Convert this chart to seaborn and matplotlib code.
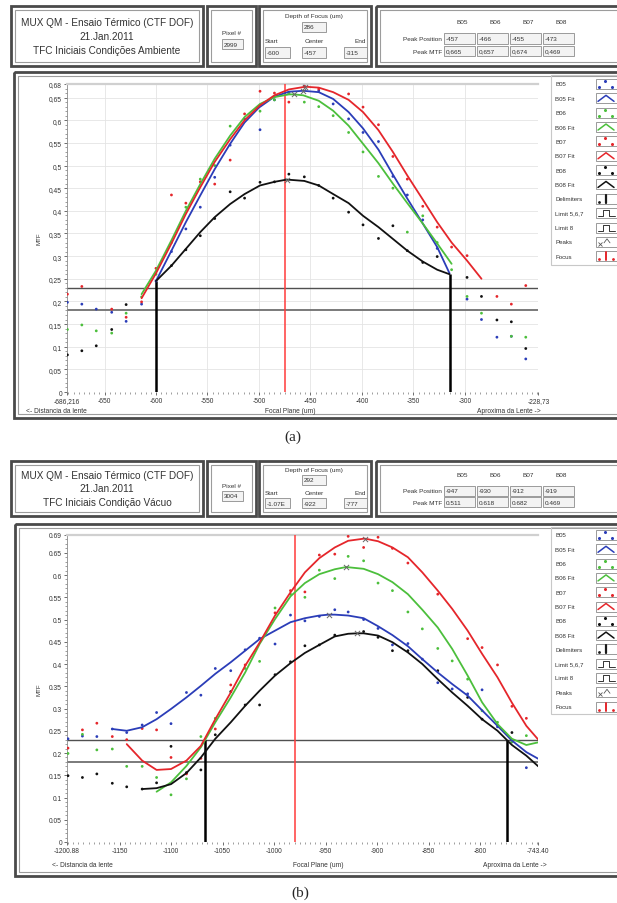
import numpy as np
import pandas as pd
import matplotlib
matplotlib.use('Agg')
import matplotlib.pyplot as plt
import seaborn as sns
from matplotlib.patches import Rectangle
from matplotlib.ticker import MultipleLocator

# ---------------- DATA: panel (a) ambient ----------------
a_b05_x = [-686,-672,-658,-643,-629,-614,-600,-585,-571,-557,-543,-528,-514,-499,-485,-471,-456,-442,-428,-413,-399,-384,-370,-356,-341,-327,-298,-284,-269,-255,-241,-227]
a_b05_y = [.198,.194,.183,.176,.156,.194,.245,.310,.360,.408,.474,.545,.603,.579,.645,.660,.675,.665,.636,.603,.573,.553,.476,.435,.380,.317,.205,.160,.121,.123,.073,.040]
a_b06_x = [-686,-672,-658,-643,-629,-614,-600,-585,-571,-557,-543,-528,-499,-485,-471,-456,-442,-428,-413,-399,-384,-370,-356,-341,-327,-313,-298,-284,-255,-241]
a_b06_y = [.138,.148,.135,.130,.174,.210,.260,.330,.408,.470,.500,.587,.620,.645,.660,.640,.630,.610,.573,.530,.476,.450,.353,.389,.330,.270,.211,.174,.123,.121]
a_b07_x = [-686,-672,-643,-629,-614,-600,-585,-571,-557,-543,-528,-514,-499,-485,-471,-456,-442,-413,-399,-384,-370,-356,-341,-327,-313,-298,-269,-255,-241,-227]
a_b07_y = [.216,.233,.183,.165,.199,.273,.435,.417,.464,.459,.512,.614,.664,.660,.640,.675,.669,.658,.629,.590,.520,.470,.410,.364,.320,.301,.211,.194,.235,.157]
a_b08_x = [-686,-672,-658,-643,-629,-585,-571,-557,-543,-528,-514,-499,-485,-471,-456,-442,-428,-413,-399,-384,-370,-356,-341,-327,-298,-284,-269,-255,-241,-227]
a_b08_y = [.082,.091,.102,.138,.193,.279,.314,.345,.383,.442,.428,.463,.464,.481,.475,.456,.428,.397,.369,.339,.367,.312,.286,.299,.253,.211,.159,.155,.096,.099]

a_fit_b05_x = [-600,-585,-571,-557,-543,-528,-514,-500,-485,-471,-457,-442,-428,-413,-399,-384,-370,-356,-341,-327,-315]
a_fit_b05_y = [.245,.312,.375,.434,.492,.548,.595,.628,.652,.663,.665,.662,.647,.618,.582,.535,.480,.427,.372,.320,.262]
a_fit_b06_x = [-614,-600,-585,-571,-557,-543,-528,-514,-499,-485,-471,-466,-457,-442,-428,-413,-399,-384,-370,-356,-341,-327,-313]
a_fit_b06_y = [.216,.268,.335,.400,.459,.515,.566,.607,.636,.651,.657,.657,.655,.643,.621,.588,.548,.505,.460,.417,.372,.328,.283]
a_fit_b07_x = [-614,-600,-585,-571,-557,-543,-528,-514,-499,-485,-471,-455,-442,-428,-413,-399,-384,-370,-356,-341,-327,-313,-298,-284]
a_fit_b07_y = [.207,.262,.328,.393,.452,.508,.558,.600,.633,.655,.668,.674,.672,.662,.645,.618,.578,.530,.478,.425,.375,.330,.290,.250]
a_fit_b08_x = [-600,-585,-571,-557,-543,-528,-514,-499,-485,-473,-456,-442,-428,-413,-399,-384,-370,-356,-341,-327,-315]
a_fit_b08_y = [.245,.279,.316,.353,.386,.415,.437,.456,.464,.469,.466,.456,.437,.417,.389,.364,.338,.312,.288,.270,.260]

a_peak_pos = [-457, -466, -455, -473]
a_peak_mtf = [0.665, 0.657, 0.674, 0.469]
a_delim_x = [-600, -315]
a_delim_top = [0.245, 0.26]
a_focus = -475
a_limits = [0.23, 0.18]
a_xticks = [-686.216, -650, -600, -550, -500, -450, -400, -350, -300, -228.73]
a_xticklabels = ['-686,216', '-650', '-600', '-550', '-500', '-450', '-400', '-350', '-300', '-228,73']
a_yticks = [0, .05, .1, .15, .2, .25, .3, .35, .4, .45, .5, .55, .6, .65, .68]
a_yticklabels = ['0', '0,05', '0,1', '0,15', '0,2', '0,25', '0,3', '0,35', '0,4', '0,45', '0,5', '0,55', '0,6', '0,65', '0,68']

# ---------------- DATA: panel (b) vacuum ----------------
b_b05_x = [-1200,-1186,-1172,-1157,-1143,-1128,-1114,-1100,-1085,-1071,-1057,-1042,-1028,-1014,-999,-984,-970,-956,-941,-928,-913,-899,-885,-870,-856,-841,-827,-812,-798,-783,-769,-755]
b_b05_y = [.232,.238,.237,.254,.246,.263,.291,.266,.336,.330,.390,.385,.432,.458,.445,.510,.497,.507,.522,.517,.500,.480,.443,.446,.411,.358,.344,.333,.342,.259,.225,.167]
b_b06_x = [-1200,-1186,-1172,-1157,-1143,-1128,-1114,-1100,-1085,-1071,-1057,-1028,-1014,-999,-984,-970,-956,-941,-928,-913,-899,-885,-870,-856,-841,-827,-812,-798,-783,-769,-755,-741]
b_b06_y = [.199,.242,.207,.209,.170,.170,.145,.106,.142,.237,.278,.390,.406,.526,.557,.550,.611,.592,.642,.632,.582,.565,.517,.479,.435,.407,.366,.295,.269,.225,.239,.203]
b_b07_x = [-1200,-1186,-1172,-1157,-1143,-1128,-1114,-1100,-1085,-1071,-1057,-1042,-1028,-999,-984,-970,-956,-941,-928,-913,-899,-885,-870,-841,-812,-798,-783,-769,-755,-741]
b_b07_y = [.211,.252,.267,.237,.230,.255,.252,.190,.153,.188,.254,.353,.398,.515,.565,.562,.645,.647,.687,.662,.685,.660,.627,.557,.457,.437,.398,.305,.278,.209]
b_b08_x = [-1200,-1186,-1172,-1157,-1143,-1128,-1114,-1100,-1085,-1071,-1057,-1042,-1028,-1014,-999,-984,-970,-956,-941,-913,-899,-885,-870,-841,-812,-798,-769,-741]
b_b08_y = [.149,.145,.153,.132,.124,.119,.133,.215,.156,.162,.241,.338,.308,.308,.376,.405,.441,.443,.465,.473,.460,.430,.430,.385,.325,.276,.246,.165]

b_fit_b05_x = [-1157,-1143,-1128,-1114,-1100,-1085,-1071,-1057,-1042,-1028,-1014,-999,-984,-970,-956,-947,-941,-928,-913,-899,-885,-870,-856,-841,-827,-812,-798,-783,-769,-755,-743.4]
b_fit_b05_y = [.254,.250,.258,.276,.299,.325,.351,.378,.404,.430,.456,.475,.494,.503,.509,.511,.511,.509,.503,.485,.465,.440,.411,.381,.355,.329,.296,.261,.228,.202,.187]
b_fit_b06_x = [-1114,-1100,-1085,-1071,-1057,-1042,-1028,-1014,-999,-984,-970,-956,-941,-930,-913,-899,-885,-870,-856,-841,-827,-812,-798,-783,-769,-755,-743.4]
b_fit_b06_y = [.113,.134,.171,.213,.269,.325,.381,.445,.501,.552,.582,.602,.613,.618,.614,.602,.584,.557,.522,.482,.434,.374,.314,.265,.232,.218,.224]
b_fit_b07_x = [-1143,-1128,-1114,-1100,-1085,-1071,-1057,-1042,-1028,-1014,-999,-984,-970,-956,-941,-928,-912,-899,-885,-870,-856,-841,-827,-812,-798,-783,-769,-755,-743.4]
b_fit_b07_y = [.220,.183,.162,.164,.183,.216,.276,.336,.396,.448,.509,.561,.606,.638,.662,.677,.682,.676,.662,.640,.606,.565,.524,.475,.423,.370,.313,.261,.230]
b_fit_b08_x = [-1128,-1114,-1100,-1085,-1071,-1057,-1042,-1028,-1014,-999,-984,-970,-956,-941,-928,-919,-913,-899,-885,-870,-856,-841,-827,-812,-798,-783,-769,-755,-743.4]
b_fit_b08_y = [.119,.121,.130,.155,.190,.232,.269,.306,.340,.374,.402,.425,.443,.462,.468,.469,.469,.464,.449,.426,.400,.366,.336,.306,.276,.250,.218,.194,.170]

b_peak_pos = [-947, -930, -912, -919]
b_peak_mtf = [0.511, 0.618, 0.682, 0.469]
b_delim_x = [-1067, -774]
b_delim_top = [0.23, 0.23]
b_focus = -980
b_limits = [0.23, 0.18]
b_xticks = [-1200.88, -1150, -1100, -1050, -1000, -950, -900, -850, -800, -743.40]
b_xticklabels = ['-1200.88', '-1150', '-1100', '-1050', '-1000', '-950', '-900', '-850', '-800', '-743.40']
b_yticks = [0, .05, .1, .15, .2, .25, .3, .35, .4, .45, .5, .55, .6, .65, .69]
b_yticklabels = ['0', '0.05', '0.1', '0.15', '0.2', '0.25', '0.3', '0.35', '0.4', '0.45', '0.5', '0.55', '0.6', '0.65', '0.69']

series = ['B05', 'B06', 'B07', 'B08']
legend_names = ['B05', 'B05 Fit', 'B06', 'B06 Fit', 'B07', 'B07 Fit', 'B08', 'B08 Fit',
                'Delimiters', 'Limit 5,6,7', 'Limit 8', 'Peaks', 'Focus']

# ---------------- STYLE ----------------
sns.set_theme(style='white')
plt.rcParams['font.family'] = ['Liberation Sans', 'DejaVu Sans']
pal = {'B05': '#2b3db8', 'B06': '#4cbf3c', 'B07': '#e5262b', 'B08': '#111111'}

W, H = 617, 904
fig = plt.figure(figsize=(W / 100, H / 100), dpi=100)
fig.patch.set_facecolor('white')
ov = fig.add_axes([0, 0, 1, 1])
ov.set_xlim(0, W); ov.set_ylim(H, 0); ov.axis('off')


def rect(x0, y0, x1, y1, **kw):
    ov.add_patch(Rectangle((x0, y0), x1 - x0, y1 - y0, **kw))


def frame(x0, y0, x1, y1, gap=4):
    rect(x0, y0, x1, y1, fill=False, ec='#4a4a4a', lw=2.0)
    rect(x0 + gap, y0 + gap, x1 - gap, y1 - gap, fill=False, ec='#9c9c9c', lw=0.8)


def inbox(x0, y0, x1, y1, txt):
    rect(x0, y0, x1, y1, fc='#f3f3f3', ec='#8c8c8c', lw=0.6)
    ov.text(x0 + 1.5, (y0 + y1) / 2, txt, fontsize=4.6, va='center', ha='left', color='#333')


def header(top, bot, l1, l2, l3, pix, dof, start, center, end, ppos, pmtf):
    h = bot - top
    frame(11, top, 203, bot)
    ym = (top + bot) / 2
    for dy, t in zip([-0.24, 0, 0.24], [l1, l2, l3]):
        ov.text(107, ym + dy * h, t, fontsize=7.2, ha='center', va='center', color='#333')
    frame(207, top, 256, bot)
    ov.text(231, ym - 0.06 * h, 'Pixel #', fontsize=4.6, ha='center', va='center', color='#333')
    inbox(222, ym + 0.05 * h, 243, ym + 0.22 * h, pix)
    frame(259, top, 371, bot)
    ov.text(314, top + 0.16 * h, 'Depth of Focus (um)', fontsize=4.6, ha='center', va='center', color='#333')
    inbox(302, top + 0.26 * h, 326, top + 0.43 * h, dof)
    ov.text(265, top + 0.58 * h, 'Start', fontsize=4.6, ha='left', va='center', color='#333')
    ov.text(314, top + 0.58 * h, 'Center', fontsize=4.6, ha='center', va='center', color='#333')
    ov.text(366, top + 0.58 * h, 'End', fontsize=4.6, ha='right', va='center', color='#333')
    inbox(265, top + 0.68 * h, 290, top + 0.86 * h, start)
    inbox(302, top + 0.68 * h, 326, top + 0.86 * h, center)
    inbox(344, top + 0.68 * h, 367, top + 0.86 * h, end)
    frame(376, top, 640, bot)
    cx = [444, 477, 510, 543]
    for i, s in enumerate(series):
        ov.text(cx[i] + 18, top + 0.25 * h, s, fontsize=4.6, ha='center', va='center', color='#333')
        inbox(cx[i], top + 0.45 * h, cx[i] + 31, top + 0.63 * h, str(ppos[i]))
        inbox(cx[i], top + 0.66 * h, cx[i] + 31, top + 0.84 * h, pmtf[i])
    ov.text(442, top + 0.54 * h, 'Peak Position', fontsize=4.6, ha='right', va='center', color='#333')
    ov.text(442, top + 0.75 * h, 'Peak MTF', fontsize=4.6, ha='right', va='center', color='#333')


def legend_panel(x0, y0, y1, ys):
    rect(x0, y0, 640, y1, fill=False, ec='#c8c8c8', lw=0.8)
    for name, y in zip(legend_names, ys):
        ov.text(x0 + 4, y, name, fontsize=4.4, va='center', ha='left', color='#333')
        bx = 596
        rect(bx, y - 5, bx + 22, y + 5, fc='white', ec='#8a8a8a', lw=0.6)
        key = name.split()[0]
        if name in series:
            ov.plot([bx + 3, bx + 9, bx + 16], [y + 3, y - 3, y + 3], 'o', ms=1.2, color=pal[key])
        elif name.endswith('Fit'):
            ov.plot([bx + 2, bx + 10, bx + 18], [y + 3, y - 3, y + 3], '-', lw=1.1, color=pal[key])
        elif name == 'Delimiters':
            ov.plot([bx + 3], [y + 3], 'o', ms=1.0, color='k')
            ov.plot([bx + 10, bx + 10], [y - 4, y + 4], '-', lw=1.6, color='k')
        elif name.startswith('Limit'):
            ov.plot([bx + 2, bx + 7, bx + 7, bx + 13, bx + 13, bx + 19],
                    [y + 3, y + 3, y - 3, y - 3, y + 3, y + 3], '-', lw=0.7, color='#333')
        elif name == 'Peaks':
            ov.plot([bx + 4], [y + 2], 'x', ms=2.5, mew=0.6, color='#555')
            ov.plot([bx + 8, bx + 11, bx + 14], [y + 1, y - 3, y + 1], '-', lw=0.6, color='#555')
        elif name == 'Focus':
            ov.plot([bx + 3, bx + 17], [y + 3, y + 3], 'o', ms=1.0, color=pal['B07'])
            ov.plot([bx + 10, bx + 10], [y - 4, y + 4], '-', lw=1.4, color=pal['B07'])


def panel(rect_px, pts, fits, peaks_pos, peaks_mtf, delim_x, delim_top, focus, limits,
          xlim, ylim, xticks, xtl, yticks, ytl, grid):
    l, t, r, b = rect_px
    ax = fig.add_axes([l / W, 1 - b / H, (r - l) / W, (b - t) / H])
    ax.set_facecolor('white')
    if grid:
        for xv in xticks[1:-1]:
            ax.axvline(xv, color='#e4e4e4', lw=0.6, zorder=0)
        for yv in yticks[1:-1]:
            ax.axhline(yv, color='#e4e4e4', lw=0.6, zorder=0)
    for yv, c, lw in zip(limits, ['#505050', '#7a7a7a'], [1.0, 1.4]):
        ax.axhline(yv, color=c, lw=lw, zorder=2)
    ax.vlines(delim_x, 0, delim_top, colors='black', lw=1.8, zorder=3)
    ax.axvline(focus, color='#ff3b3b', lw=1.1, zorder=3)
    sns.scatterplot(data=pts, x='x', y='y', hue='series', palette=pal, s=4, linewidth=0,
                    legend=False, ax=ax, zorder=4)
    sns.lineplot(data=fits, x='x', y='y', hue='series', palette=pal, estimator=None, sort=False,
                 lw=1.3, legend=False, ax=ax, zorder=5)
    ax.scatter(peaks_pos, peaks_mtf, marker='x', s=14, color='#666', linewidths=0.7, zorder=6)
    ax.set_xlim(*xlim); ax.set_ylim(*ylim)
    ax.set_xticks(xticks); ax.set_xticklabels(xtl)
    ax.set_yticks(yticks); ax.set_yticklabels(ytl)
    ax.xaxis.set_minor_locator(MultipleLocator(5))
    ax.yaxis.set_minor_locator(MultipleLocator(0.01))
    ax.tick_params(axis='both', which='major', labelsize=4.8, length=2.5, width=0.6,
                   colors='#555', labelcolor='#333', pad=1.2, direction='out', left=True, bottom=True)
    ax.tick_params(axis='both', which='minor', length=1.3, width=0.5, colors='#777',
                   direction='out', left=True, bottom=True)
    for s in ['right', 'bottom']:
        ax.spines[s].set_visible(False)
    ax.spines['left'].set_color('#8a8a8a'); ax.spines['left'].set_linewidth(0.6)
    ax.spines['top'].set_color('#d0d0d0'); ax.spines['top'].set_linewidth(1.6)
    ax.set_xlabel(''); ax.set_ylabel('')
    return ax


def make_pts(xs, ys):
    return pd.concat([pd.DataFrame({'x': x, 'y': y, 'series': s}) for s, x, y in zip(series, xs, ys)],
                     ignore_index=True)


# ---------------- (a) ----------------
header(7, 67, 'MUX QM - Ensaio Térmico (CTF DOF)', '21.Jan.2011', 'TFC Iniciais Condições Ambiente',
       '2999', '286', '-600', '-457', '-315', a_peak_pos, ['0,665', '0,657', '0,674', '0,469'])
frame(14, 73, 640, 419)
legend_panel(551, 76, 266, [85 + 14.35 * i for i in range(13)])
pts_a = make_pts([a_b05_x, a_b06_x, a_b07_x, a_b08_x], [a_b05_y, a_b06_y, a_b07_y, a_b08_y])
fits_a = make_pts([a_fit_b05_x, a_fit_b06_x, a_fit_b07_x, a_fit_b08_x],
                  [a_fit_b05_y, a_fit_b06_y, a_fit_b07_y, a_fit_b08_y])
panel((67.2, 85, 538.4, 393), pts_a, fits_a, a_peak_pos, a_peak_mtf, a_delim_x, a_delim_top, a_focus,
      a_limits, (-686.216, -228.73), (0, 0.68), a_xticks, a_xticklabels, a_yticks, a_yticklabels, True)
ov.text(39, 239, 'MTF', fontsize=4.4, rotation=90, ha='center', va='center', color='#333')
ov.text(26, 412, '<- Distancia da lente', fontsize=4.8, ha='left', va='center', color='#333')
ov.text(290, 412, 'Focal Plane (um)', fontsize=4.8, ha='center', va='center', color='#333')
ov.text(541, 412, 'Aproxima da Lente ->', fontsize=4.8, ha='right', va='center', color='#333')
ov.text(293, 437, '(a)', fontsize=11, ha='center', va='center', family='Liberation Serif')

# ---------------- (b) ----------------
header(462, 517, 'MUX QM - Ensaio Térmico (CTF DOF)', '21.Jan.2011', 'TFC Iniciais Condição Vácuo',
       '3004', '292', '-1.07E', '-922', '-777', b_peak_pos, ['0.511', '0.618', '0.682', '0.469'])
frame(15, 525, 640, 877)
legend_panel(551, 528, 715, [536 + 14.3 * i for i in range(13)])
pts_b = make_pts([b_b05_x, b_b06_x, b_b07_x, b_b08_x], [b_b05_y, b_b06_y, b_b07_y, b_b08_y])
fits_b = make_pts([b_fit_b05_x, b_fit_b06_x, b_fit_b07_x, b_fit_b08_x],
                  [b_fit_b05_y, b_fit_b06_y, b_fit_b07_y, b_fit_b08_y])
panel((67.1, 536, 538.3, 843), pts_b, fits_b, b_peak_pos, b_peak_mtf, b_delim_x, b_delim_top, b_focus,
      b_limits, (-1200.88, -743.40), (0, 0.69), b_xticks, b_xticklabels, b_yticks, b_yticklabels, False)
ov.text(39, 690, 'MTF', fontsize=4.4, rotation=90, ha='center', va='center', color='#333')
ov.text(52, 866, '<- Distancia da lente', fontsize=4.8, ha='left', va='center', color='#333')
ov.text(318, 866, 'Focal Plane (um)', fontsize=4.8, ha='center', va='center', color='#333')
ov.text(547, 866, 'Aproxima da Lente ->', fontsize=4.8, ha='right', va='center', color='#333')
ov.text(300, 893, '(b)', fontsize=11, ha='center', va='center', family='Liberation Serif')

fig.savefig('out.png', dpi=100)
